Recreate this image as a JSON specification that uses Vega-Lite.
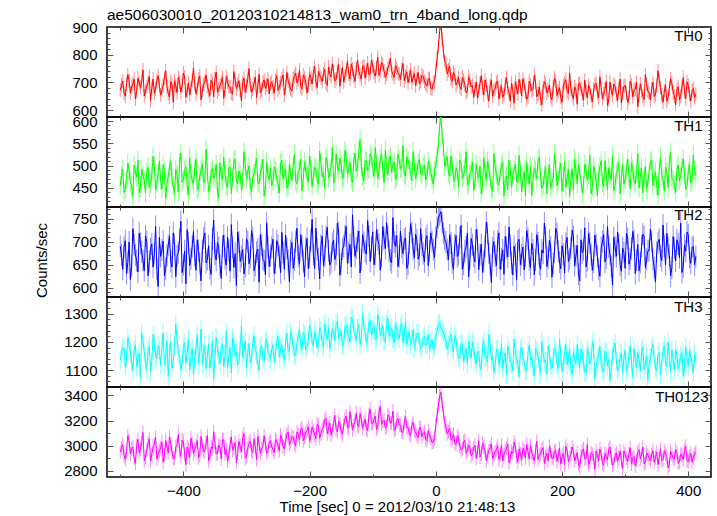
{
"$schema": "https://vega.github.io/schema/vega-lite/v6.json",
"background": "white",
"padding": {"left": 34, "top": 7, "right": 5, "bottom": 2},
"title": {"text": "ae506030010_20120310214813_wam0_trn_4band_long.qdp", "anchor": "start", "frame": "group", "fontSize": 15.5, "offset": -4},
"datasets": {"lc": [
{"t":-500,"a":672,"b":455,"c":690,"d":1135,"e":2950},
{"t":-496,"a":705,"b":492,"c":640,"d":1180,"e":3010},
{"t":-492,"a":650,"b":447,"c":702,"d":1110,"e":2890},
{"t":-488,"a":728,"b":505,"c":655,"d":1215,"e":3080},
{"t":-484,"a":661,"b":463,"c":618,"d":1162,"e":2935},
{"t":-480,"a":693,"b":430,"c":728,"d":1098,"e":2990},
{"t":-476,"a":640,"b":488,"c":671,"d":1190,"e":2860},
{"t":-472,"a":715,"b":512,"c":634,"d":1140,"e":3050},
{"t":-468,"a":682,"b":451,"c":696,"d":1072,"e":2975},
{"t":-464,"a":745,"b":477,"c":659,"d":1205,"e":3105},
{"t":-460,"a":668,"b":438,"c":712,"d":1128,"e":2910},
{"t":-456,"a":699,"b":496,"c":626,"d":1170,"e":3020},
{"t":-452,"a":635,"b":459,"c":684,"d":1095,"e":2880},
{"t":-448,"a":712,"b":521,"c":645,"d":1225,"e":2995},
{"t":-444,"a":676,"b":445,"c":733,"d":1150,"e":3065},
{"t":-440,"a":724,"b":483,"c":603,"d":1188,"e":2930},
{"t":-436,"a":654,"b":466,"c":668,"d":1116,"e":2985},
{"t":-432,"a":690,"b":502,"c":701,"d":1232,"e":2870},
{"t":-428,"a":742,"b":426,"c":641,"d":1143,"e":3040},
{"t":-424,"a":661,"b":474,"c":692,"d":1076,"e":2945},
{"t":-420,"a":703,"b":509,"c":657,"d":1198,"e":3015},
{"t":-416,"a":628,"b":452,"c":719,"d":1133,"e":2900},
{"t":-412,"a":688,"b":491,"c":624,"d":1262,"e":2990},
{"t":-408,"a":718,"b":440,"c":676,"d":1158,"e":3090},
{"t":-404,"a":665,"b":528,"c":744,"d":1101,"e":2915},
{"t":-400,"a":734,"b":468,"c":650,"d":1185,"e":3035},
{"t":-396,"a":646,"b":497,"c":609,"d":1124,"e":2850},
{"t":-392,"a":698,"b":433,"c":697,"d":1210,"e":2970},
{"t":-388,"a":681,"b":481,"c":663,"d":1147,"e":3060},
{"t":-384,"a":752,"b":458,"c":722,"d":1083,"e":2940},
{"t":-380,"a":659,"b":514,"c":638,"d":1176,"e":3000},
{"t":-376,"a":711,"b":449,"c":681,"d":1120,"e":2905},
{"t":-372,"a":637,"b":490,"c":615,"d":1245,"e":3075},
{"t":-368,"a":693,"b":462,"c":708,"d":1161,"e":2960},
{"t":-364,"a":726,"b":537,"c":654,"d":1105,"e":3025},
{"t":-360,"a":670,"b":442,"c":691,"d":1192,"e":2880},
{"t":-356,"a":708,"b":486,"c":629,"d":1137,"e":2990},
{"t":-352,"a":648,"b":471,"c":747,"d":1066,"e":3110},
{"t":-348,"a":737,"b":503,"c":660,"d":1217,"e":2935},
{"t":-344,"a":675,"b":428,"c":687,"d":1152,"e":3005},
{"t":-340,"a":700,"b":476,"c":620,"d":1183,"e":2895},
{"t":-336,"a":642,"b":519,"c":714,"d":1112,"e":3045},
{"t":-332,"a":721,"b":455,"c":649,"d":1238,"e":2970},
{"t":-328,"a":685,"b":494,"c":682,"d":1145,"e":2920},
{"t":-324,"a":662,"b":437,"c":737,"d":1090,"e":3070},
{"t":-320,"a":739,"b":511,"c":644,"d":1200,"e":2985},
{"t":-316,"a":678,"b":465,"c":605,"d":1166,"e":2865},
{"t":-312,"a":706,"b":488,"c":699,"d":1127,"e":3035},
{"t":-308,"a":633,"b":446,"c":668,"d":1257,"e":2950},
{"t":-304,"a":716,"b":531,"c":630,"d":1174,"e":3095},
{"t":-300,"a":687,"b":470,"c":706,"d":1108,"e":2915},
{"t":-296,"a":750,"b":499,"c":652,"d":1195,"e":3020},
{"t":-292,"a":664,"b":441,"c":724,"d":1141,"e":2960},
{"t":-288,"a":697,"b":482,"c":637,"d":1220,"e":3055},
{"t":-284,"a":645,"b":516,"c":677,"d":1156,"e":2890},
{"t":-280,"a":729,"b":459,"c":612,"d":1099,"e":3010},
{"t":-276,"a":672,"b":493,"c":693,"d":1187,"e":2975},
{"t":-272,"a":709,"b":432,"c":658,"d":1131,"e":3080},
{"t":-268,"a":691,"b":507,"c":741,"d":1210,"e":2940},
{"t":-264,"a":658,"b":468,"c":646,"d":1159,"e":3030},
{"t":-260,"a":702,"b":455,"c":688,"d":1172,"e":2990},
{"t":-256,"a":661,"b":497,"c":631,"d":1128,"e":2945},
{"t":-252,"a":724,"b":474,"c":702,"d":1205,"e":3035},
{"t":-248,"a":683,"b":438,"c":667,"d":1146,"e":2960},
{"t":-244,"a":711,"b":512,"c":720,"d":1188,"e":3060},
{"t":-240,"a":654,"b":486,"c":640,"d":1137,"e":2975},
{"t":-236,"a":736,"b":449,"c":685,"d":1230,"e":3090},
{"t":-232,"a":690,"b":503,"c":613,"d":1169,"e":3010},
{"t":-228,"a":669,"b":467,"c":698,"d":1214,"e":3075},
{"t":-224,"a":722,"b":525,"c":660,"d":1158,"e":3020},
{"t":-220,"a":698,"b":459,"c":729,"d":1196,"e":3110},
{"t":-216,"a":745,"b":492,"c":651,"d":1242,"e":3050},
{"t":-212,"a":676,"b":443,"c":690,"d":1171,"e":3140},
{"t":-208,"a":717,"b":508,"c":624,"d":1224,"e":3065},
{"t":-204,"a":662,"b":478,"c":707,"d":1183,"e":3120},
{"t":-200,"a":730,"b":521,"c":666,"d":1260,"e":3035},
{"t":-196,"a":694,"b":452,"c":748,"d":1199,"e":3150},
{"t":-192,"a":757,"b":496,"c":642,"d":1236,"e":3085},
{"t":-188,"a":681,"b":469,"c":683,"d":1178,"e":3170},
{"t":-184,"a":726,"b":532,"c":619,"d":1251,"e":3060},
{"t":-180,"a":703,"b":475,"c":712,"d":1192,"e":3130},
{"t":-176,"a":748,"b":448,"c":668,"d":1265,"e":3205},
{"t":-172,"a":689,"b":510,"c":731,"d":1210,"e":3095},
{"t":-168,"a":731,"b":486,"c":649,"d":1176,"e":3180},
{"t":-164,"a":767,"b":541,"c":696,"d":1248,"e":3120},
{"t":-160,"a":705,"b":463,"c":661,"d":1203,"e":3240},
{"t":-156,"a":742,"b":499,"c":740,"d":1272,"e":3110},
{"t":-152,"a":686,"b":517,"c":627,"d":1219,"e":3175},
{"t":-148,"a":754,"b":470,"c":684,"d":1185,"e":3090},
{"t":-144,"a":723,"b":534,"c":712,"d":1256,"e":3215},
{"t":-140,"a":776,"b":481,"c":653,"d":1230,"e":3150},
{"t":-136,"a":712,"b":507,"c":694,"d":1199,"e":3270},
{"t":-132,"a":748,"b":462,"c":758,"d":1281,"e":3125},
{"t":-128,"a":704,"b":528,"c":668,"d":1226,"e":3195},
{"t":-124,"a":781,"b":495,"c":701,"d":1247,"e":3160},
{"t":-120,"a":727,"b":559,"c":632,"d":1190,"e":3255},
{"t":-116,"a":756,"b":476,"c":715,"d":1302,"e":3140},
{"t":-112,"a":715,"b":512,"c":679,"d":1235,"e":3210},
{"t":-108,"a":770,"b":489,"c":746,"d":1214,"e":3120},
{"t":-104,"a":733,"b":527,"c":657,"d":1277,"e":3290},
{"t":-100,"a":759,"b":498,"c":721,"d":1243,"e":3175},
{"t":-96,"a":722,"b":540,"c":672,"d":1208,"e":3235},
{"t":-92,"a":791,"b":471,"c":704,"d":1296,"e":3150},
{"t":-88,"a":740,"b":515,"c":638,"d":1222,"e":3310},
{"t":-84,"a":765,"b":492,"c":733,"d":1258,"e":3195},
{"t":-80,"a":718,"b":535,"c":685,"d":1199,"e":3140},
{"t":-76,"a":752,"b":480,"c":711,"d":1283,"e":3245},
{"t":-72,"a":786,"b":521,"c":660,"d":1236,"e":3180},
{"t":-68,"a":729,"b":504,"c":752,"d":1212,"e":3275},
{"t":-64,"a":761,"b":468,"c":690,"d":1268,"e":3130},
{"t":-60,"a":734,"b":526,"c":646,"d":1225,"e":3215},
{"t":-56,"a":710,"b":493,"c":723,"d":1251,"e":3160},
{"t":-52,"a":768,"b":545,"c":674,"d":1196,"e":3105},
{"t":-48,"a":722,"b":476,"c":708,"d":1274,"e":3230},
{"t":-44,"a":699,"b":512,"c":651,"d":1218,"e":3145},
{"t":-40,"a":745,"b":489,"c":739,"d":1189,"e":3080},
{"t":-36,"a":716,"b":531,"c":684,"d":1245,"e":3185},
{"t":-32,"a":688,"b":470,"c":716,"d":1203,"e":3110},
{"t":-28,"a":736,"b":505,"c":662,"d":1230,"e":3065},
{"t":-24,"a":703,"b":482,"c":728,"d":1176,"e":3140},
{"t":-20,"a":721,"b":496,"c":674,"d":1215,"e":3095},
{"t":-16,"a":694,"b":468,"c":705,"d":1188,"e":3050},
{"t":-12,"a":712,"b":510,"c":648,"d":1226,"e":3120},
{"t":-8,"a":680,"b":487,"c":719,"d":1197,"e":3060},
{"t":-4,"a":698,"b":458,"c":683,"d":1171,"e":3030},
{"t":0,"a":742,"b":502,"c":710,"d":1220,"e":3160},
{"t":4,"a":830,"b":548,"c":752,"d":1262,"e":3320},
{"t":8,"a":915,"b":612,"c":765,"d":1249,"e":3425},
{"t":12,"a":812,"b":541,"c":718,"d":1231,"e":3260},
{"t":16,"a":768,"b":509,"c":699,"d":1204,"e":3150},
{"t":20,"a":745,"b":483,"c":661,"d":1190,"e":3110},
{"t":24,"a":712,"b":521,"c":697,"d":1228,"e":3045},
{"t":28,"a":736,"b":470,"c":640,"d":1165,"e":3090},
{"t":32,"a":690,"b":495,"c":713,"d":1212,"e":3010},
{"t":36,"a":718,"b":452,"c":672,"d":1148,"e":3065},
{"t":40,"a":675,"b":507,"c":735,"d":1195,"e":2965},
{"t":44,"a":707,"b":478,"c":651,"d":1130,"e":3030},
{"t":48,"a":662,"b":531,"c":689,"d":1178,"e":2940},
{"t":52,"a":720,"b":460,"c":624,"d":1203,"e":3005},
{"t":56,"a":683,"b":489,"c":707,"d":1142,"e":2920},
{"t":60,"a":646,"b":445,"c":668,"d":1186,"e":2985},
{"t":64,"a":701,"b":503,"c":726,"d":1121,"e":2900},
{"t":68,"a":668,"b":472,"c":639,"d":1167,"e":3040},
{"t":72,"a":724,"b":437,"c":694,"d":1102,"e":2935},
{"t":76,"a":655,"b":518,"c":657,"d":1204,"e":2990},
{"t":80,"a":690,"b":466,"c":742,"d":1149,"e":2880},
{"t":84,"a":632,"b":494,"c":675,"d":1226,"e":2960},
{"t":88,"a":709,"b":449,"c":611,"d":1135,"e":3015},
{"t":92,"a":671,"b":527,"c":700,"d":1092,"e":2925},
{"t":96,"a":699,"b":480,"c":648,"d":1171,"e":2970},
{"t":100,"a":640,"b":456,"c":719,"d":1118,"e":2890},
{"t":104,"a":688,"b":498,"c":663,"d":1193,"e":3005},
{"t":108,"a":656,"b":431,"c":629,"d":1147,"e":2930},
{"t":112,"a":718,"b":476,"c":687,"d":1084,"e":2980},
{"t":116,"a":662,"b":512,"c":732,"d":1165,"e":2865},
{"t":120,"a":697,"b":453,"c":654,"d":1122,"e":2955},
{"t":124,"a":625,"b":489,"c":690,"d":1210,"e":3030},
{"t":128,"a":680,"b":464,"c":617,"d":1139,"e":2910},
{"t":132,"a":711,"b":523,"c":705,"d":1076,"e":2975},
{"t":136,"a":651,"b":441,"c":671,"d":1180,"e":2890},
{"t":140,"a":693,"b":486,"c":639,"d":1127,"e":2960},
{"t":144,"a":639,"b":507,"c":724,"d":1099,"e":3010},
{"t":148,"a":705,"b":458,"c":660,"d":1188,"e":2895},
{"t":152,"a":670,"b":433,"c":696,"d":1143,"e":2945},
{"t":156,"a":726,"b":495,"c":628,"d":1078,"e":2880},
{"t":160,"a":648,"b":470,"c":715,"d":1169,"e":3035},
{"t":164,"a":683,"b":518,"c":651,"d":1112,"e":2925},
{"t":168,"a":619,"b":449,"c":682,"d":1201,"e":2970},
{"t":172,"a":702,"b":480,"c":740,"d":1130,"e":2860},
{"t":176,"a":661,"b":437,"c":646,"d":1087,"e":2940},
{"t":180,"a":690,"b":501,"c":703,"d":1158,"e":2995},
{"t":184,"a":637,"b":463,"c":623,"d":1105,"e":2900},
{"t":188,"a":715,"b":526,"c":677,"d":1182,"e":2955},
{"t":192,"a":652,"b":455,"c":718,"d":1124,"e":2875},
{"t":196,"a":681,"b":488,"c":656,"d":1211,"e":2980},
{"t":200,"a":628,"b":442,"c":691,"d":1096,"e":2915},
{"t":204,"a":699,"b":509,"c":632,"d":1155,"e":2850},
{"t":208,"a":667,"b":472,"c":709,"d":1119,"e":2965},
{"t":212,"a":734,"b":430,"c":663,"d":1174,"e":2905},
{"t":216,"a":655,"b":493,"c":725,"d":1083,"e":2990},
{"t":220,"a":684,"b":516,"c":648,"d":1142,"e":2880},
{"t":224,"a":621,"b":459,"c":692,"d":1190,"e":2945},
{"t":228,"a":697,"b":481,"c":615,"d":1107,"e":2830},
{"t":232,"a":659,"b":438,"c":676,"d":1156,"e":2960},
{"t":236,"a":708,"b":503,"c":730,"d":1093,"e":2895},
{"t":240,"a":644,"b":467,"c":659,"d":1176,"e":3010},
{"t":244,"a":678,"b":524,"c":697,"d":1121,"e":2870},
{"t":248,"a":630,"b":451,"c":638,"d":1200,"e":2935},
{"t":252,"a":692,"b":486,"c":714,"d":1069,"e":2815},
{"t":256,"a":663,"b":432,"c":668,"d":1139,"e":2920},
{"t":260,"a":720,"b":497,"c":625,"d":1183,"e":2975},
{"t":264,"a":640,"b":462,"c":700,"d":1102,"e":2860},
{"t":268,"a":675,"b":511,"c":656,"d":1167,"e":2940},
{"t":272,"a":617,"b":445,"c":733,"d":1114,"e":2890},
{"t":276,"a":701,"b":478,"c":672,"d":1062,"e":2990},
{"t":280,"a":654,"b":521,"c":606,"d":1152,"e":2845},
{"t":284,"a":686,"b":456,"c":689,"d":1195,"e":2925},
{"t":288,"a":635,"b":490,"c":721,"d":1098,"e":2880},
{"t":292,"a":712,"b":436,"c":650,"d":1146,"e":2960},
{"t":296,"a":660,"b":503,"c":686,"d":1089,"e":2820},
{"t":300,"a":689,"b":470,"c":642,"d":1171,"e":2930},
{"t":304,"a":626,"b":515,"c":707,"d":1110,"e":2875},
{"t":308,"a":704,"b":448,"c":663,"d":1186,"e":2985},
{"t":312,"a":648,"b":492,"c":722,"d":1075,"e":2900},
{"t":316,"a":676,"b":459,"c":631,"d":1140,"e":2840},
{"t":320,"a":612,"b":527,"c":694,"d":1162,"e":2950},
{"t":324,"a":695,"b":474,"c":655,"d":1097,"e":2895},
{"t":328,"a":651,"b":439,"c":716,"d":1181,"e":2990},
{"t":332,"a":728,"b":498,"c":644,"d":1118,"e":2865},
{"t":336,"a":669,"b":463,"c":680,"d":1063,"e":2925},
{"t":340,"a":637,"b":508,"c":727,"d":1144,"e":2880},
{"t":344,"a":700,"b":455,"c":661,"d":1190,"e":2960},
{"t":348,"a":655,"b":486,"c":612,"d":1107,"e":2905},
{"t":352,"a":742,"b":433,"c":698,"d":1155,"e":2850},
{"t":356,"a":681,"b":519,"c":669,"d":1083,"e":2975},
{"t":360,"a":628,"b":470,"c":736,"d":1168,"e":2890},
{"t":364,"a":690,"b":496,"c":650,"d":1126,"e":2935},
{"t":368,"a":646,"b":451,"c":687,"d":1199,"e":2825},
{"t":372,"a":713,"b":529,"c":626,"d":1094,"e":2955},
{"t":376,"a":664,"b":467,"c":711,"d":1137,"e":2900},
{"t":380,"a":620,"b":440,"c":658,"d":1172,"e":2970},
{"t":384,"a":684,"b":501,"c":695,"d":1105,"e":2860},
{"t":388,"a":650,"b":476,"c":740,"d":1150,"e":2935},
{"t":392,"a":717,"b":515,"c":646,"d":1079,"e":2890},
{"t":396,"a":641,"b":447,"c":679,"d":1183,"e":2995},
{"t":400,"a":690,"b":488,"c":715,"d":1115,"e":2875},
{"t":404,"a":633,"b":461,"c":653,"d":1146,"e":2940},
{"t":408,"a":678,"b":524,"c":690,"d":1091,"e":2905},
{"t":412,"a":658,"b":478,"c":668,"d":1135,"e":2950},
{"t":-498,"a":689,"b":478,"c":671,"d":1158,"e":2985},
{"t":-494,"a":662,"b":440,"c":688,"d":1176,"e":2920},
{"t":-490,"a":695,"b":469,"c":631,"d":1143,"e":2955},
{"t":-486,"a":706,"b":488,"c":699,"d":1190,"e":3040},
{"t":-482,"a":684,"b":455,"c":647,"d":1130,"e":2975},
{"t":-478,"a":712,"b":501,"c":694,"d":1171,"e":2905},
{"t":-474,"a":667,"b":473,"c":659,"d":1113,"e":3000},
{"t":-470,"a":698,"b":439,"c":718,"d":1159,"e":2945},
{"t":-466,"a":703,"b":492,"c":678,"d":1228,"e":3025},
{"t":-462,"a":651,"b":468,"c":637,"d":1161,"e":2880},
{"t":-458,"a":685,"b":485,"c":700,"d":1103,"e":2965},
{"t":-454,"a":721,"b":450,"c":657,"d":1184,"e":3055},
{"t":-450,"a":677,"b":477,"c":695,"d":1129,"e":2930},
{"t":-446,"a":660,"b":498,"c":674,"d":1196,"e":3010},
{"t":-442,"a":706,"b":460,"c":640,"d":1140,"e":2895},
{"t":-438,"a":689,"b":510,"c":709,"d":1170,"e":2960},
{"t":-434,"a":672,"b":448,"c":682,"d":1181,"e":3030},
{"t":-430,"a":715,"b":486,"c":626,"d":1119,"e":2925},
{"t":-426,"a":684,"b":459,"c":670,"d":1204,"e":2985},
{"t":-422,"a":647,"b":495,"c":711,"d":1164,"e":3070},
{"t":-418,"a":692,"b":471,"c":645,"d":1107,"e":2950},
{"t":-414,"a":706,"b":437,"c":693,"d":1183,"e":2900},
{"t":-410,"a":663,"b":480,"c":669,"d":1212,"e":3005},
{"t":-406,"a":701,"b":506,"c":704,"d":1149,"e":2965},
{"t":-402,"a":687,"b":462,"c":633,"d":1125,"e":3045},
{"t":-398,"a":719,"b":489,"c":680,"d":1196,"e":2935},
{"t":-394,"a":670,"b":455,"c":726,"d":1161,"e":2990},
{"t":-390,"a":655,"b":518,"c":648,"d":1100,"e":2905},
{"t":-386,"a":708,"b":467,"c":690,"d":1178,"e":3015},
{"t":-382,"a":694,"b":492,"c":669,"d":1140,"e":2970},
{"t":-378,"a":678,"b":446,"c":704,"d":1227,"e":3040},
{"t":-374,"a":723,"b":475,"c":652,"d":1165,"e":2925},
{"t":-370,"a":669,"b":503,"c":681,"d":1121,"e":2995},
{"t":-366,"a":704,"b":463,"c":719,"d":1188,"e":2950},
{"t":-362,"a":686,"b":485,"c":661,"d":1153,"e":3080},
{"t":-358,"a":652,"b":455,"c":642,"d":1108,"e":2915},
{"t":-354,"a":697,"b":494,"c":705,"d":1203,"e":2975},
{"t":-350,"a":712,"b":478,"c":673,"d":1146,"e":3030},
{"t":-346,"a":665,"b":441,"c":698,"d":1175,"e":2940},
{"t":-342,"a":689,"b":506,"c":650,"d":1124,"e":2990},
{"t":-338,"a":718,"b":468,"c":691,"d":1192,"e":3050},
{"t":-334,"a":674,"b":483,"c":664,"d":1155,"e":2930},
{"t":-330,"a":701,"b":451,"c":710,"d":1107,"e":2880},
{"t":-326,"a":683,"b":497,"c":636,"d":1180,"e":3010},
{"t":-322,"a":658,"b":472,"c":688,"d":1214,"e":2965},
{"t":-318,"a":709,"b":515,"c":674,"d":1148,"e":3025},
{"t":-314,"a":692,"b":459,"c":721,"d":1119,"e":2940},
{"t":-310,"a":672,"b":480,"c":657,"d":1186,"e":2995},
{"t":-306,"a":699,"b":464,"c":683,"d":1145,"e":3060},
{"t":-302,"a":664,"b":501,"c":646,"d":1202,"e":2900},
{"t":-298,"a":711,"b":486,"c":700,"d":1160,"e":2980},
{"t":-294,"a":690,"b":452,"c":666,"d":1125,"e":3035},
{"t":-290,"a":676,"b":473,"c":709,"d":1196,"e":2945},
{"t":-286,"a":719,"b":499,"c":649,"d":1169,"e":2990},
{"t":-282,"a":685,"b":461,"c":684,"d":1118,"e":3075},
{"t":-278,"a":662,"b":484,"c":715,"d":1177,"e":2935},
{"t":-274,"a":700,"b":514,"c":661,"d":1143,"e":2995},
{"t":-270,"a":678,"b":450,"c":628,"d":1199,"e":3015},
{"t":-266,"a":713,"b":479,"c":688,"d":1163,"e":2960},
{"t":-262,"a":695,"b":494,"c":670,"d":1137,"e":3040},
{"t":-258,"a":682,"b":466,"c":705,"d":1190,"e":2970},
{"t":-254,"a":709,"b":488,"c":653,"d":1159,"e":3050},
{"t":-250,"a":671,"b":458,"c":692,"d":1219,"e":3000},
{"t":-246,"a":698,"b":505,"c":633,"d":1175,"e":3085},
{"t":-242,"a":727,"b":470,"c":676,"d":1153,"e":2990},
{"t":-238,"a":684,"b":492,"c":714,"d":1201,"e":3045},
{"t":-234,"a":706,"b":455,"c":659,"d":1164,"e":3110},
{"t":-230,"a":675,"b":481,"c":681,"d":1238,"e":3030},
{"t":-226,"a":712,"b":499,"c":642,"d":1182,"e":3065},
{"t":-222,"a":733,"b":464,"c":700,"d":1150,"e":3000},
{"t":-218,"a":709,"b":487,"c":668,"d":1219,"e":3090},
{"t":-214,"a":684,"b":515,"c":715,"d":1188,"e":3125},
{"t":-210,"a":727,"b":472,"c":657,"d":1232,"e":3040},
{"t":-206,"a":701,"b":490,"c":686,"d":1171,"e":3105},
{"t":-202,"a":689,"b":463,"c":641,"d":1209,"e":3150},
{"t":-198,"a":718,"b":501,"c":703,"d":1247,"e":3075},
{"t":-194,"a":735,"b":477,"c":672,"d":1186,"e":3120},
{"t":-190,"a":702,"b":493,"c":729,"d":1218,"e":3055},
{"t":-186,"a":741,"b":458,"c":663,"d":1197,"e":3165},
{"t":-182,"a":716,"b":507,"c":692,"d":1240,"e":3100},
{"t":-178,"a":730,"b":484,"c":648,"d":1182,"e":3155},
{"t":-174,"a":697,"b":518,"c":711,"d":1224,"e":3220},
{"t":-170,"a":756,"b":472,"c":680,"d":1251,"e":3140},
{"t":-166,"a":720,"b":495,"c":655,"d":1198,"e":3085},
{"t":-162,"a":738,"b":463,"c":703,"d":1236,"e":3175},
{"t":-158,"a":711,"b":526,"c":672,"d":1265,"e":3130},
{"t":-154,"a":764,"b":488,"c":719,"d":1212,"e":3195},
{"t":-150,"a":728,"b":502,"c":651,"d":1240,"e":3110},
{"t":-146,"a":701,"b":476,"c":690,"d":1194,"e":3160},
{"t":-142,"a":745,"b":519,"c":733,"d":1259,"e":3235},
{"t":-138,"a":730,"b":493,"c":676,"d":1220,"e":3140},
{"t":-134,"a":767,"b":470,"c":645,"d":1288,"e":3200},
{"t":-130,"a":722,"b":508,"c":709,"d":1237,"e":3165},
{"t":-126,"a":749,"b":487,"c":686,"d":1205,"e":3260},
{"t":-122,"a":738,"b":533,"c":723,"d":1262,"e":3150},
{"t":-118,"a":712,"b":498,"c":661,"d":1218,"e":3215},
{"t":-114,"a":761,"b":466,"c":698,"d":1249,"e":3175},
{"t":-110,"a":744,"b":510,"c":673,"d":1196,"e":3135},
{"t":-106,"a":727,"b":491,"c":712,"d":1270,"e":3245},
{"t":-102,"a":780,"b":519,"c":688,"d":1225,"e":3180},
{"t":-98,"a":736,"b":475,"c":650,"d":1257,"e":3210},
{"t":-94,"a":753,"b":504,"c":726,"d":1214,"e":3130},
{"t":-90,"a":725,"b":488,"c":694,"d":1279,"e":3265},
{"t":-86,"a":772,"b":527,"c":668,"d":1233,"e":3170},
{"t":-82,"a":741,"b":462,"c":707,"d":1205,"e":3205},
{"t":-78,"a":730,"b":499,"c":741,"d":1262,"e":3150},
{"t":-74,"a":764,"b":516,"c":679,"d":1219,"e":3230},
{"t":-70,"a":741,"b":485,"c":654,"d":1248,"e":3185},
{"t":-66,"a":718,"b":508,"c":699,"d":1196,"e":3120},
{"t":-62,"a":752,"b":474,"c":713,"d":1240,"e":3200},
{"t":-58,"a":729,"b":512,"c":668,"d":1211,"e":3165},
{"t":-54,"a":746,"b":495,"c":689,"d":1267,"e":3110},
{"t":-50,"a":706,"b":480,"c":705,"d":1223,"e":3185},
{"t":-46,"a":738,"b":520,"c":642,"d":1190,"e":3145},
{"t":-42,"a":721,"b":497,"c":697,"d":1236,"e":3095},
{"t":-38,"a":700,"b":466,"c":720,"d":1208,"e":3160},
{"t":-34,"a":732,"b":500,"c":665,"d":1177,"e":3120},
{"t":-30,"a":713,"b":485,"c":704,"d":1229,"e":3080},
{"t":-26,"a":695,"b":514,"c":671,"d":1199,"e":3145},
{"t":-22,"a":726,"b":479,"c":692,"d":1184,"e":3070},
{"t":-18,"a":704,"b":501,"c":656,"d":1221,"e":3110},
{"t":-14,"a":687,"b":475,"c":713,"d":1193,"e":3040},
{"t":-10,"a":715,"b":497,"c":680,"d":1170,"e":3085},
{"t":-6,"a":675,"b":470,"c":700,"d":1208,"e":3025},
{"t":-2,"a":701,"b":489,"c":665,"d":1186,"e":3060},
{"t":2,"a":785,"b":521,"c":731,"d":1240,"e":3245},
{"t":6,"a":884,"b":588,"c":758,"d":1266,"e":3395},
{"t":10,"a":858,"b":566,"c":741,"d":1242,"e":3330},
{"t":14,"a":776,"b":497,"c":705,"d":1218,"e":3185},
{"t":18,"a":730,"b":520,"c":683,"d":1174,"e":3095},
{"t":22,"a":758,"b":476,"c":715,"d":1206,"e":3140},
{"t":26,"a":704,"b":503,"c":654,"d":1181,"e":3060},
{"t":30,"a":727,"b":464,"c":692,"d":1223,"e":3025},
{"t":34,"a":700,"b":488,"c":668,"d":1162,"e":3080},
{"t":38,"a":684,"b":512,"c":709,"d":1140,"e":2995},
{"t":42,"a":719,"b":471,"c":640,"d":1189,"e":2975},
{"t":46,"a":692,"b":494,"c":680,"d":1157,"e":3045},
{"t":50,"a":670,"b":456,"c":718,"d":1121,"e":2960},
{"t":54,"a":707,"b":481,"c":661,"d":1172,"e":2990},
{"t":58,"a":688,"b":508,"c":693,"d":1198,"e":2935},
{"t":62,"a":676,"b":463,"c":656,"d":1136,"e":3005},
{"t":66,"a":645,"b":484,"c":704,"d":1164,"e":2950},
{"t":70,"a":697,"b":499,"c":672,"d":1110,"e":2910},
{"t":74,"a":681,"b":455,"c":633,"d":1181,"e":3020},
{"t":78,"a":709,"b":487,"c":690,"d":1145,"e":2960},
{"t":82,"a":663,"b":510,"c":718,"d":1128,"e":2925},
{"t":86,"a":688,"b":470,"c":651,"d":1196,"e":2985},
{"t":90,"a":650,"b":442,"c":686,"d":1152,"e":2895},
{"t":94,"a":676,"b":496,"c":669,"d":1117,"e":2950},
{"t":98,"a":705,"b":462,"c":702,"d":1175,"e":3000},
{"t":102,"a":668,"b":485,"c":640,"d":1142,"e":2925},
{"t":106,"a":646,"b":508,"c":682,"d":1103,"e":2880},
{"t":110,"a":693,"b":470,"c":711,"d":1161,"e":2960},
{"t":114,"a":679,"b":446,"c":667,"d":1186,"e":3015},
{"t":118,"a":632,"b":492,"c":691,"d":1128,"e":2905},
{"t":122,"a":670,"b":477,"c":628,"d":1097,"e":2940},
{"t":126,"a":702,"b":503,"c":672,"d":1155,"e":2995},
{"t":130,"a":659,"b":461,"c":701,"d":1121,"e":2870},
{"t":134,"a":685,"b":489,"c":650,"d":1174,"e":2935},
{"t":138,"a":713,"b":470,"c":688,"d":1149,"e":2980},
{"t":142,"a":666,"b":432,"c":669,"d":1100,"e":2905},
{"t":146,"a":647,"b":481,"c":706,"d":1163,"e":2955},
{"t":150,"a":690,"b":499,"c":643,"d":1135,"e":3000},
{"t":154,"a":675,"b":466,"c":682,"d":1112,"e":2915},
{"t":158,"a":701,"b":488,"c":660,"d":1178,"e":2960},
{"t":162,"a":658,"b":512,"c":697,"d":1145,"e":2890},
{"t":166,"a":640,"b":474,"c":640,"d":1090,"e":2935},
{"t":170,"a":680,"b":455,"c":675,"d":1160,"e":2985},
{"t":174,"a":694,"b":496,"c":709,"d":1133,"e":2910},
{"t":178,"a":672,"b":482,"c":664,"d":1185,"e":2880},
{"t":182,"a":648,"b":449,"c":688,"d":1117,"e":2950},
{"t":186,"a":683,"b":471,"c":653,"d":1142,"e":2900},
{"t":190,"a":704,"b":498,"c":729,"d":1172,"e":2965},
{"t":194,"a":669,"b":467,"c":679,"d":1103,"e":2920},
{"t":198,"a":646,"b":505,"c":641,"d":1151,"e":2855},
{"t":202,"a":688,"b":476,"c":673,"d":1128,"e":2940},
{"t":206,"a":710,"b":452,"c":696,"d":1190,"e":2995},
{"t":210,"a":660,"b":491,"c":657,"d":1137,"e":2875},
{"t":214,"a":677,"b":468,"c":687,"d":1106,"e":2930},
{"t":218,"a":641,"b":445,"c":711,"d":1163,"e":2960},
{"t":222,"a":672,"b":487,"c":669,"d":1121,"e":2910},
{"t":226,"a":695,"b":503,"c":630,"d":1148,"e":2855},
{"t":230,"a":678,"b":470,"c":704,"d":1174,"e":2920},
{"t":234,"a":636,"b":456,"c":683,"d":1127,"e":2975},
{"t":238,"a":668,"b":491,"c":645,"d":1088,"e":2900},
{"t":242,"a":690,"b":478,"c":718,"d":1154,"e":2850},
{"t":246,"a":651,"b":437,"c":672,"d":1134,"e":2945},
{"t":250,"a":673,"b":499,"c":656,"d":1179,"e":2905},
{"t":254,"a":697,"b":465,"c":693,"d":1113,"e":2960},
{"t":258,"a":644,"b":481,"c":640,"d":1150,"e":2880},
{"t":262,"a":681,"b":511,"c":687,"d":1123,"e":2935},
{"t":266,"a":660,"b":453,"c":715,"d":1092,"e":2845},
{"t":270,"a":703,"b":476,"c":664,"d":1163,"e":2915},
{"t":274,"a":638,"b":495,"c":689,"d":1138,"e":2970},
{"t":278,"a":671,"b":469,"c":646,"d":1110,"e":2900},
{"t":282,"a":694,"b":443,"c":709,"d":1176,"e":2860},
{"t":286,"a":657,"b":484,"c":668,"d":1131,"e":2945},
{"t":290,"a":679,"b":507,"c":695,"d":1104,"e":2905},
{"t":294,"a":625,"b":472,"c":636,"d":1161,"e":2880},
{"t":298,"a":686,"b":458,"c":677,"d":1143,"e":2960},
{"t":302,"a":661,"b":490,"c":718,"d":1098,"e":2900},
{"t":306,"a":645,"b":477,"c":651,"d":1153,"e":2935},
{"t":310,"a":690,"b":506,"c":685,"d":1127,"e":2855},
{"t":314,"a":672,"b":466,"c":703,"d":1176,"e":2915},
{"t":318,"a":700,"b":483,"c":660,"d":1110,"e":2880},
{"t":322,"a":654,"b":450,"c":637,"d":1138,"e":2970},
{"t":326,"a":670,"b":495,"c":690,"d":1165,"e":2925},
{"t":330,"a":638,"b":472,"c":711,"d":1102,"e":2855},
{"t":334,"a":693,"b":446,"c":662,"d":1149,"e":2945},
{"t":338,"a":662,"b":486,"c":681,"d":1124,"e":2900},
{"t":342,"a":676,"b":513,"c":700,"d":1176,"e":2930},
{"t":346,"a":649,"b":470,"c":644,"d":1139,"e":2870},
{"t":350,"a":688,"b":455,"c":678,"d":1098,"e":2950},
{"t":354,"a":708,"b":492,"c":705,"d":1162,"e":2905},
{"t":358,"a":655,"b":478,"c":659,"d":1130,"e":2880},
{"t":362,"a":669,"b":443,"c":690,"d":1185,"e":2960},
{"t":366,"a":632,"b":485,"c":718,"d":1111,"e":2915},
{"t":370,"a":679,"b":509,"c":670,"d":1144,"e":2850},
{"t":374,"a":697,"b":472,"c":643,"d":1172,"e":2930},
{"t":378,"a":651,"b":458,"c":686,"d":1100,"e":2895},
{"t":382,"a":673,"b":490,"c":704,"d":1153,"e":2945},
{"t":386,"a":638,"b":466,"c":665,"d":1126,"e":2870},
{"t":390,"a":684,"b":497,"c":633,"d":1162,"e":2925},
{"t":394,"a":668,"b":479,"c":692,"d":1108,"e":2960},
{"t":398,"a":702,"b":452,"c":721,"d":1145,"e":2880},
{"t":402,"a":656,"b":503,"c":666,"d":1170,"e":2915},
{"t":406,"a":670,"b":470,"c":687,"d":1119,"e":2870},
{"t":410,"a":645,"b":489,"c":650,"d":1157,"e":2935}
]},
"vconcat": [
{"width": 604, "height": 90, "data": {"name": "lc"},
 "title": {"text": "TH0", "anchor": "end", "offset": -24, "dx": -9},
 "layer": [
  {"mark": {"type": "tick", "orient": "vertical", "color": "#ff0000", "size": 14, "thickness": 1, "opacity": 0.45, "clip": true},
   "encoding": {"x": {"field": "t", "type": "quantitative", "title": null, "scale": {"domain": [-521, 436], "nice": false, "zero": false}, "axis": {"orient": "bottom", "values": [-400,-200,0,200,400], "tickSize": -6, "labels": false}},
    "y": {"field": "a", "type": "quantitative", "title": null, "scale": {"domain": [575, 900], "nice": false, "zero": false}, "axis": {"orient": "left", "values": [600,700,800,900], "format": "d", "tickSize": -6, "labelPadding": 16}}}},
  {"mark": {"type": "line", "color": "#ff0000", "strokeWidth": 1, "clip": true},
   "encoding": {"x": {"field": "t", "type": "quantitative", "title": null, "axis": {"orient": "top", "values": [-400,-200,0,200,400], "tickSize": -6, "labels": false}},
    "y": {"field": "a", "type": "quantitative", "title": null, "axis": {"orient": "right", "values": [600,700,800,900], "tickSize": -6, "labels": false}}}},
  {"transform": [{"filter": "datum.t == -500"}], "mark": {"type": "point", "opacity": 0},
   "encoding": {"x": {"field": "t", "type": "quantitative", "title": null, "axis": {"orient": "bottom", "values": [-500,-300,-100,100,300], "tickSize": -3, "labels": false}},
    "y": {"field": "a", "type": "quantitative", "title": null, "axis": {"orient": "left", "values": [580,620,640,660,680,720,740,760,780,820,840,860,880], "tickSize": -3, "labels": false}}}},
  {"transform": [{"filter": "datum.t == -500"}], "mark": {"type": "point", "opacity": 0},
   "encoding": {"x": {"field": "t", "type": "quantitative", "title": null, "axis": {"orient": "top", "values": [-500,-300,-100,100,300], "tickSize": -3, "labels": false}},
    "y": {"field": "a", "type": "quantitative", "title": null, "axis": {"orient": "right", "values": [580,620,640,660,680,720,740,760,780,820,840,860,880], "tickSize": -3, "labels": false}}}}
 ],
 "resolve": {"axis": {"x": "independent", "y": "independent"}}},
{"width": 604, "height": 90, "data": {"name": "lc"},
 "title": {"text": "TH1", "anchor": "end", "offset": -20, "dx": -9},
 "layer": [
  {"mark": {"type": "tick", "orient": "vertical", "color": "#00ff00", "size": 19, "thickness": 1, "opacity": 0.45, "clip": true},
   "encoding": {"x": {"field": "t", "type": "quantitative", "title": null, "scale": {"domain": [-521, 436], "nice": false, "zero": false}, "axis": {"orient": "bottom", "values": [-400,-200,0,200,400], "tickSize": -6, "labels": false}},
    "y": {"field": "b", "type": "quantitative", "title": null, "scale": {"domain": [407, 609], "nice": false, "zero": false}, "axis": {"orient": "left", "values": [450,500,550,600], "format": "d", "tickSize": -6, "labelPadding": 16}}}},
  {"mark": {"type": "line", "color": "#00ff00", "strokeWidth": 1, "clip": true},
   "encoding": {"x": {"field": "t", "type": "quantitative", "title": null, "axis": {"orient": "top", "values": [-400,-200,0,200,400], "tickSize": -6, "labels": false}},
    "y": {"field": "b", "type": "quantitative", "title": null, "axis": {"orient": "right", "values": [450,500,550,600], "tickSize": -6, "labels": false}}}},
  {"transform": [{"filter": "datum.t == -500"}], "mark": {"type": "point", "opacity": 0},
   "encoding": {"x": {"field": "t", "type": "quantitative", "title": null, "axis": {"orient": "bottom", "values": [-500,-300,-100,100,300], "tickSize": -3, "labels": false}},
    "y": {"field": "b", "type": "quantitative", "title": null, "axis": {"orient": "left", "values": [410,420,430,440,460,470,480,490,510,520,530,540,560,570,580,590], "tickSize": -3, "labels": false}}}},
  {"transform": [{"filter": "datum.t == -500"}], "mark": {"type": "point", "opacity": 0},
   "encoding": {"x": {"field": "t", "type": "quantitative", "title": null, "axis": {"orient": "top", "values": [-500,-300,-100,100,300], "tickSize": -3, "labels": false}},
    "y": {"field": "b", "type": "quantitative", "title": null, "axis": {"orient": "right", "values": [410,420,430,440,460,470,480,490,510,520,530,540,560,570,580,590], "tickSize": -3, "labels": false}}}}
 ],
 "resolve": {"axis": {"x": "independent", "y": "independent"}}},
{"width": 604, "height": 90, "data": {"name": "lc"},
 "title": {"text": "TH2", "anchor": "end", "offset": -16, "dx": -9},
 "layer": [
  {"mark": {"type": "tick", "orient": "vertical", "color": "#0000ff", "size": 22, "thickness": 1, "opacity": 0.45, "clip": true},
   "encoding": {"x": {"field": "t", "type": "quantitative", "title": null, "scale": {"domain": [-521, 436], "nice": false, "zero": false}, "axis": {"orient": "bottom", "values": [-400,-200,0,200,400], "tickSize": -6, "labels": false}},
    "y": {"field": "c", "type": "quantitative", "title": "Counts/sec", "scale": {"domain": [580, 775], "nice": false, "zero": false}, "axis": {"orient": "left", "values": [600,650,700,750], "format": "d", "tickSize": -6, "labelPadding": 16, "titlePadding": 22, "titleY": 53}}}},
  {"mark": {"type": "line", "color": "#0000ff", "strokeWidth": 1, "clip": true},
   "encoding": {"x": {"field": "t", "type": "quantitative", "title": null, "axis": {"orient": "top", "values": [-400,-200,0,200,400], "tickSize": -6, "labels": false}},
    "y": {"field": "c", "type": "quantitative", "title": null, "axis": {"orient": "right", "values": [600,650,700,750], "tickSize": -6, "labels": false}}}},
  {"transform": [{"filter": "datum.t == -500"}], "mark": {"type": "point", "opacity": 0},
   "encoding": {"x": {"field": "t", "type": "quantitative", "title": null, "axis": {"orient": "bottom", "values": [-500,-300,-100,100,300], "tickSize": -3, "labels": false}},
    "y": {"field": "c", "type": "quantitative", "title": null, "axis": {"orient": "left", "values": [590,610,620,630,640,660,670,680,690,710,720,730,740,760,770], "tickSize": -3, "labels": false}}}},
  {"transform": [{"filter": "datum.t == -500"}], "mark": {"type": "point", "opacity": 0},
   "encoding": {"x": {"field": "t", "type": "quantitative", "title": null, "axis": {"orient": "top", "values": [-500,-300,-100,100,300], "tickSize": -3, "labels": false}},
    "y": {"field": "c", "type": "quantitative", "title": null, "axis": {"orient": "right", "values": [590,610,620,630,640,660,670,680,690,710,720,730,740,760,770], "tickSize": -3, "labels": false}}}}
 ],
 "resolve": {"axis": {"x": "independent", "y": "independent"}}},
{"width": 604, "height": 90, "data": {"name": "lc"},
 "title": {"text": "TH3", "anchor": "end", "offset": -18, "dx": -9},
 "layer": [
  {"mark": {"type": "tick", "orient": "vertical", "color": "#00ffff", "size": 19, "thickness": 1, "opacity": 0.45, "clip": true},
   "encoding": {"x": {"field": "t", "type": "quantitative", "title": null, "scale": {"domain": [-521, 436], "nice": false, "zero": false}, "axis": {"orient": "bottom", "values": [-400,-200,0,200,400], "tickSize": -6, "labels": false}},
    "y": {"field": "d", "type": "quantitative", "title": null, "scale": {"domain": [1040, 1359], "nice": false, "zero": false}, "axis": {"orient": "left", "values": [1100,1200,1300], "format": "d", "tickSize": -6, "labelPadding": 16}}}},
  {"mark": {"type": "line", "color": "#00ffff", "strokeWidth": 1, "clip": true},
   "encoding": {"x": {"field": "t", "type": "quantitative", "title": null, "axis": {"orient": "top", "values": [-400,-200,0,200,400], "tickSize": -6, "labels": false}},
    "y": {"field": "d", "type": "quantitative", "title": null, "axis": {"orient": "right", "values": [1100,1200,1300], "tickSize": -6, "labels": false}}}},
  {"transform": [{"filter": "datum.t == -500"}], "mark": {"type": "point", "opacity": 0},
   "encoding": {"x": {"field": "t", "type": "quantitative", "title": null, "axis": {"orient": "bottom", "values": [-500,-300,-100,100,300], "tickSize": -3, "labels": false}},
    "y": {"field": "d", "type": "quantitative", "title": null, "axis": {"orient": "left", "values": [1060,1080,1120,1140,1160,1180,1220,1240,1260,1280,1320,1340], "tickSize": -3, "labels": false}}}},
  {"transform": [{"filter": "datum.t == -500"}], "mark": {"type": "point", "opacity": 0},
   "encoding": {"x": {"field": "t", "type": "quantitative", "title": null, "axis": {"orient": "top", "values": [-500,-300,-100,100,300], "tickSize": -3, "labels": false}},
    "y": {"field": "d", "type": "quantitative", "title": null, "axis": {"orient": "right", "values": [1060,1080,1120,1140,1160,1180,1220,1240,1260,1280,1320,1340], "tickSize": -3, "labels": false}}}}
 ],
 "resolve": {"axis": {"x": "independent", "y": "independent"}}},
{"width": 604, "height": 90, "data": {"name": "lc"},
 "title": {"text": "TH0123", "anchor": "end", "offset": -18, "dx": -3},
 "layer": [
  {"mark": {"type": "tick", "orient": "vertical", "color": "#ff00ff", "size": 14, "thickness": 1, "opacity": 0.45, "clip": true},
   "encoding": {"x": {"field": "t", "type": "quantitative", "title": "Time [sec] 0 = 2012/03/10 21:48:13", "scale": {"domain": [-521, 436], "nice": false, "zero": false}, "axis": {"orient": "bottom", "values": [-400,-200,0,200,400], "tickSize": -6, "labelPadding": 12, "titlePadding": 1, "titleX": 290}},
    "y": {"field": "e", "type": "quantitative", "title": null, "scale": {"domain": [2752, 3466], "nice": false, "zero": false}, "axis": {"orient": "left", "values": [2800,3000,3200,3400], "format": "d", "tickSize": -6, "labelPadding": 16}}}},
  {"mark": {"type": "line", "color": "#ff00ff", "strokeWidth": 1, "clip": true},
   "encoding": {"x": {"field": "t", "type": "quantitative", "title": null, "axis": {"orient": "top", "values": [-400,-200,0,200,400], "tickSize": -6, "labels": false}},
    "y": {"field": "e", "type": "quantitative", "title": null, "axis": {"orient": "right", "values": [2800,3000,3200,3400], "tickSize": -6, "labels": false}}}},
  {"transform": [{"filter": "datum.t == -500"}], "mark": {"type": "point", "opacity": 0},
   "encoding": {"x": {"field": "t", "type": "quantitative", "title": null, "axis": {"orient": "bottom", "values": [-500,-300,-100,100,300], "tickSize": -3, "labels": false}},
    "y": {"field": "e", "type": "quantitative", "title": null, "axis": {"orient": "left", "values": [2900,3100,3300], "tickSize": -3, "labels": false}}}},
  {"transform": [{"filter": "datum.t == -500"}], "mark": {"type": "point", "opacity": 0},
   "encoding": {"x": {"field": "t", "type": "quantitative", "title": null, "axis": {"orient": "top", "values": [-500,-300,-100,100,300], "tickSize": -3, "labels": false}},
    "y": {"field": "e", "type": "quantitative", "title": null, "axis": {"orient": "right", "values": [2900,3100,3300], "tickSize": -3, "labels": false}}}}
 ],
 "resolve": {"axis": {"x": "independent", "y": "independent"}}}
],
"spacing": 0,
"bounds": "flush",
"config": {
 "font": "Liberation Sans",
 "view": {"stroke": "#000", "strokeWidth": 1.5},
 "axis": {"domain": false, "grid": false, "tickColor": "#555", "tickWidth": 1, "labelFont": "Liberation Sans", "labelFontSize": 15, "labelColor": "#000", "titleFont": "Liberation Sans", "titleFontSize": 15, "titleFontWeight": "normal", "titleColor": "#000"},
 "title": {"font": "Liberation Sans", "fontSize": 15, "fontWeight": "normal", "color": "#000"}
}
}
